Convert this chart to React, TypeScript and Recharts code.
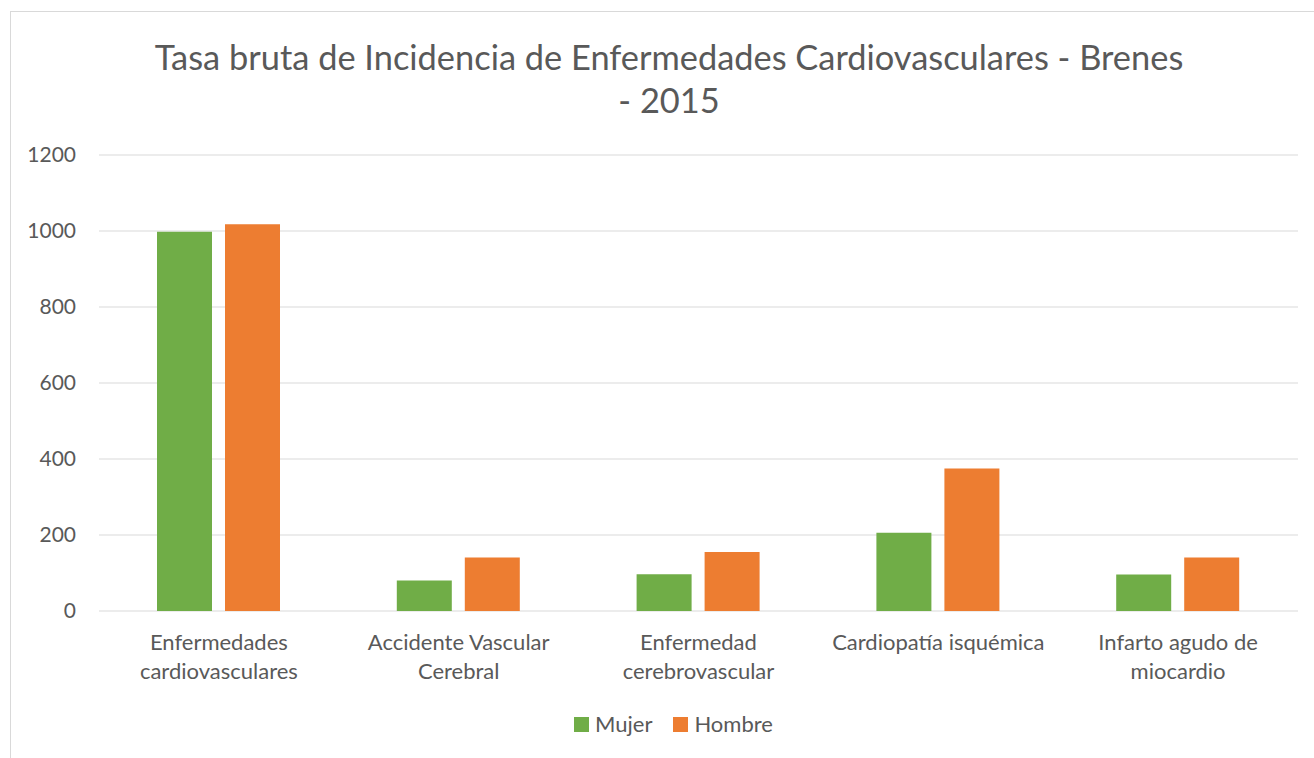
import React from "react";
import { BarChart, Bar, XAxis, YAxis, CartesianGrid } from "recharts";

const categories = [
  "Enfermedades\ncardiovasculares",
  "Accidente Vascular\nCerebral",
  "Enfermedad\ncerebrovascular",
  "Cardiopatía isquémica",
  "Infarto agudo de\nmiocardio",
];
const mujer = [998, 80, 97, 206, 96];
const hombre = [1018, 141, 155, 375, 141];
const yTicks = [0, 200, 400, 600, 800, 1000, 1200];

const titleLines = ["Tasa bruta de Incidencia de Enfermedades Cardiovasculares - Brenes", "- 2015"];

const FONT = "Lato, 'Open Sans', sans-serif";
const TEXT = "#595959";
const GREEN = "#70AD47";
const ORANGE = "#ED7D31";

const data = categories.map((c, i) => ({ name: c, Mujer: mujer[i], Hombre: hombre[i] }));

function CategoryTick({ x, y, payload }: any) {
  const lines = String(payload.value).split("\n");
  return (
    <text x={x} y={y} textAnchor="middle" fill={TEXT} fontSize={22} fontFamily={FONT}>
      {lines.map((l, i) => (
        <tspan key={i} x={x} dy={i === 0 ? 31 : 29}>{l}</tspan>
      ))}
    </text>
  );
}

export default function App() {
  return (
    <div style={{ position: "absolute", left: 0, top: 0, width: 1314, height: 758, overflow: "hidden", background: "#fff" }}>
      <div style={{ position: "absolute", left: 10, top: 11, width: 1330, height: 780, border: "1px solid #d9d9d9" }} />
      <div style={{ position: "absolute", left: 0, width: 1338, top: 35, textAlign: "center", color: TEXT, fontFamily: FONT, fontSize: 34.4, lineHeight: "43px" }}>
        {titleLines.map((t) => (
          <div key={t}>{t}</div>
        ))}
      </div>
      <BarChart
        width={1314}
        height={758}
        data={data}
        margin={{ top: 155, right: 16, left: 39, bottom: 57 }}
        barCategoryGap={58}
        barGap={13}
        style={{ position: "absolute", left: 0, top: 0 }}
      >
        <CartesianGrid vertical={false} stroke="#d9d9d9" strokeWidth={1.2} />
        <XAxis dataKey="name" height={90} axisLine={false} tickLine={false} tick={<CategoryTick />} interval={0} />
        <YAxis
          width={60}
          domain={[0, 1200]}
          ticks={yTicks}
          axisLine={false}
          tickLine={false}
          tickMargin={17}
          tick={{ fill: TEXT, fontSize: 21, fontFamily: FONT }}
        />
        <Bar dataKey="Mujer" fill={GREEN} isAnimationActive={false} />
        <Bar dataKey="Hombre" fill={ORANGE} isAnimationActive={false} />
      </BarChart>
      <div style={{ position: "absolute", left: 574, top: 710, display: "flex", alignItems: "center", fontFamily: FONT, fontSize: 22, lineHeight: "28px", color: TEXT }}>
        <span style={{ width: 15, height: 15, background: GREEN, display: "inline-block", marginRight: 6 }} />
        <span style={{ marginRight: 21 }}>Mujer</span>
        <span style={{ width: 15, height: 15, background: ORANGE, display: "inline-block", marginRight: 6 }} />
        <span>Hombre</span>
      </div>
    </div>
  );
}
